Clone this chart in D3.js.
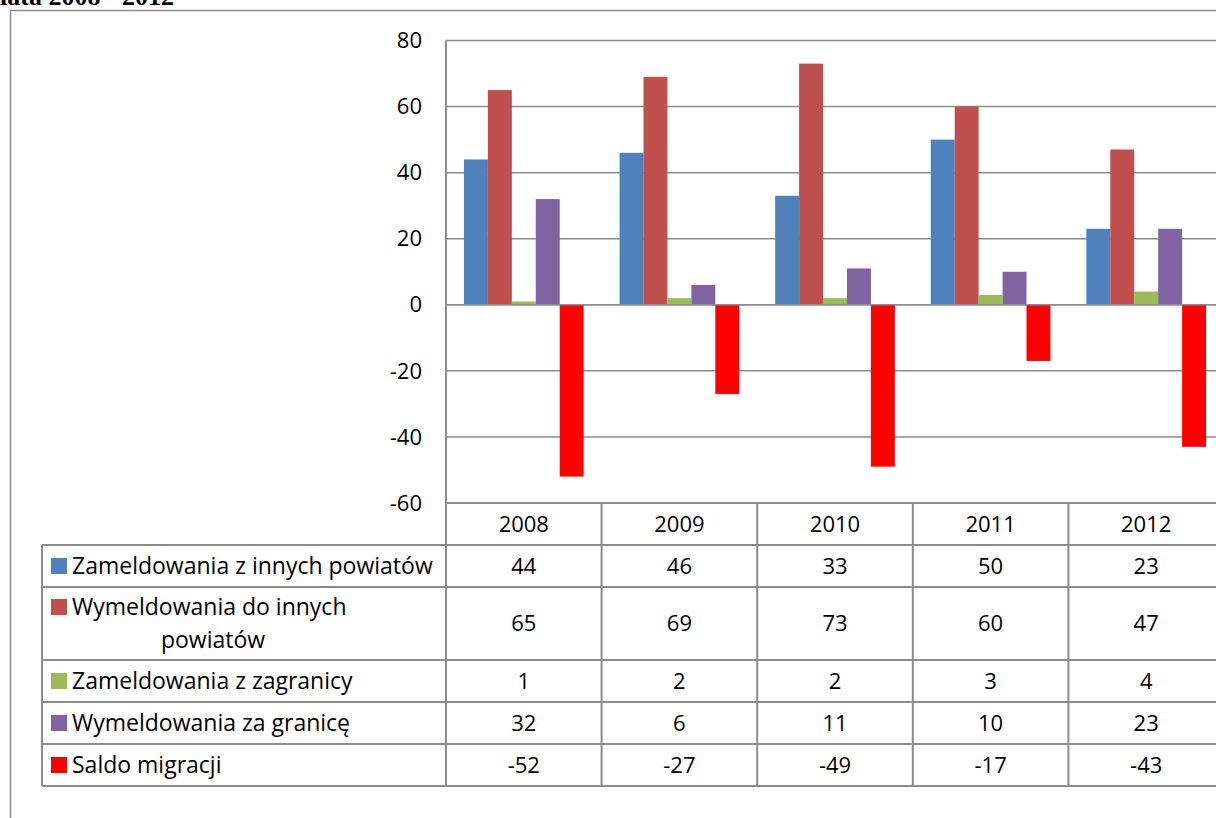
<!DOCTYPE html>
<html>
<head>
<meta charset="utf-8">
<script src="https://cdn.jsdelivr.net/npm/d3@7"></script>
<style>
  html, body { margin: 0; padding: 0; background: #fff; overflow: hidden; }
  svg { display: block; }
  text { font-family: "Open Sans", "Liberation Sans", sans-serif; fill: #000; }
</style>
</head>
<body>
<div id="chart"></div>
<script>
// Data
const years = ['2008', '2009', '2010', '2011', '2012'];
const seriesNames = [
    'Zameldowania z innych powiatów',
    'Wymeldowania do innych powiatów',
    'Zameldowania z zagranicy',
    'Wymeldowania za granicę',
    'Saldo migracji'
];
const seriesColors = ['#4F81BD', '#C0504D', '#9BBB59', '#8064A2', '#FF0000'];
const zameldowaniaPowiaty = [44, 46, 33, 50, 23];
const wymeldowaniaPowiaty = [65, 69, 73, 60, 47];
const zameldowaniaZagranica = [1, 2, 2, 3, 4];
const wymeldowaniaZagranica = [32, 6, 11, 10, 23];
const saldoMigracji = [-52, -27, -49, -17, -43];
const yTicks = [-60, -40, -20, 0, 20, 40, 60, 80];

const seriesValues = [zameldowaniaPowiaty, wymeldowaniaPowiaty, zameldowaniaZagranica, wymeldowaniaZagranica, saldoMigracji];

const W = 1216, H = 818;
const grid = '#8c8c8c';
const numSize = '22px', legSize = '23px';

const svg = d3.select('#chart').append('svg')
    .attr('width', W)
    .attr('height', H);

// Title (cut off at the top, as in the source page)
svg.append('text')
    .attr('x', 0)
    .attr('y', 5)
    .style('font-family', '"Liberation Serif", "DejaVu Serif", serif')
    .style('font-weight', 'bold')
    .style('font-size', '26px')
    .text('lata 2008 - 2012');

// Outer chart frame (runs off the right and bottom)
svg.append('path')
    .attr('d', `M10.5,${H + 5}V10.5H${W + 5}`)
    .attr('fill', 'none')
    .attr('stroke', grid)
    .attr('stroke-width', 1.5);

const plotLeft = 446, plotRight = 1224, plotTop = 40.5, plotBottom = 503;

const x = d3.scaleBand().domain(years).range([plotLeft, plotRight]);
const xs = d3.scaleBand().domain(d3.range(seriesNames.length))
    .range([0, x.bandwidth()]).paddingInner(0).paddingOuter(0.75);
const y = d3.scaleLinear().domain([-60, 80]).range([plotBottom, plotTop]);

// Gridlines
svg.append('g').selectAll('line').data(yTicks).join('line')
    .attr('x1', plotLeft).attr('x2', W + 5)
    .attr('y1', d => y(d)).attr('y2', d => y(d))
    .attr('stroke', grid).attr('stroke-width', 1.5);

// Y axis labels
svg.append('g').selectAll('text').data(yTicks).join('text')
    .attr('x', 422)
    .attr('y', d => y(d))
    .attr('dy', '0.35em')
    .attr('text-anchor', 'end')
    .style('font-size', numSize)
    .text(d => d);

// Bars
const barData = [];
seriesValues.forEach((vals, si) => {
    vals.forEach((v, yi) => barData.push({ si, year: years[yi], v }));
});
svg.append('g').selectAll('rect').data(barData).join('rect')
    .attr('x', d => x(d.year) + xs(d.si))
    .attr('width', xs.bandwidth())
    .attr('y', d => y(Math.max(0, d.v)))
    .attr('height', d => Math.abs(y(d.v) - y(0)))
    .attr('fill', d => seriesColors[d.si]);

// Zero line on top of bars
svg.append('line')
    .attr('x1', plotLeft).attr('x2', W + 5)
    .attr('y1', y(0)).attr('y2', y(0))
    .attr('stroke', grid).attr('stroke-width', 1.5);

// Data table
const tableLeft = 42;
const rowEdges = [503, 545, 587, 660, 702, 744, 786];
const table = svg.append('g');

// vertical axis line / table column lines
table.append('line')
    .attr('x1', plotLeft).attr('x2', plotLeft)
    .attr('y1', plotTop).attr('y2', rowEdges[rowEdges.length - 1])
    .attr('stroke', grid).attr('stroke-width', 2);
table.selectAll('.col').data(years.slice(1)).join('line')
    .attr('class', 'col')
    .attr('x1', d => x(d)).attr('x2', d => x(d))
    .attr('y1', rowEdges[0]).attr('y2', rowEdges[rowEdges.length - 1])
    .attr('stroke', grid).attr('stroke-width', 2);
table.append('line')
    .attr('x1', tableLeft).attr('x2', tableLeft)
    .attr('y1', rowEdges[1]).attr('y2', rowEdges[rowEdges.length - 1])
    .attr('stroke', grid).attr('stroke-width', 2);
table.selectAll('.row').data(rowEdges).join('line')
    .attr('class', 'row')
    .attr('x1', (d, i) => i === 0 ? plotLeft : tableLeft).attr('x2', W + 5)
    .attr('y1', d => d).attr('y2', d => d)
    .attr('stroke', grid).attr('stroke-width', 2);

// header years
table.selectAll('.yr').data(years).join('text')
    .attr('class', 'yr')
    .attr('x', d => x(d) + x.bandwidth() / 2)
    .attr('y', (rowEdges[0] + rowEdges[1]) / 2)
    .attr('dy', '0.35em')
    .attr('text-anchor', 'middle')
    .style('font-size', numSize)
    .text(d => d);

seriesNames.forEach((name, si) => {
    const top = rowEdges[si + 1], bottom = rowEdges[si + 2];
    const mid = (top + bottom) / 2;
    const g = table.append('g');
    const twoLines = si === 1;
    const firstY = twoLines ? top + 20 : mid;
    g.append('rect')
        .attr('x', 51).attr('y', firstY - 8)
        .attr('width', 16).attr('height', 16)
        .attr('fill', seriesColors[si]);
    if (twoLines) {
        g.append('text').attr('x', 72).attr('y', firstY).attr('dy', '0.35em')
            .style('font-size', legSize).text('Wymeldowania do innych');
        g.append('text').attr('x', 213).attr('y', firstY + 33).attr('dy', '0.35em')
            .attr('text-anchor', 'middle')
            .style('font-size', legSize).text('powiatów');
    } else {
        g.append('text').attr('x', 72).attr('y', mid).attr('dy', '0.35em')
            .style('font-size', legSize).text(name);
    }
    g.selectAll('.val').data(seriesValues[si]).join('text')
        .attr('class', 'val')
        .attr('x', (d, i) => x(years[i]) + x.bandwidth() / 2)
        .attr('y', mid)
        .attr('dy', '0.35em')
        .attr('text-anchor', 'middle')
        .style('font-size', numSize)
        .text(d => d);
});
</script>
</body>
</html>
